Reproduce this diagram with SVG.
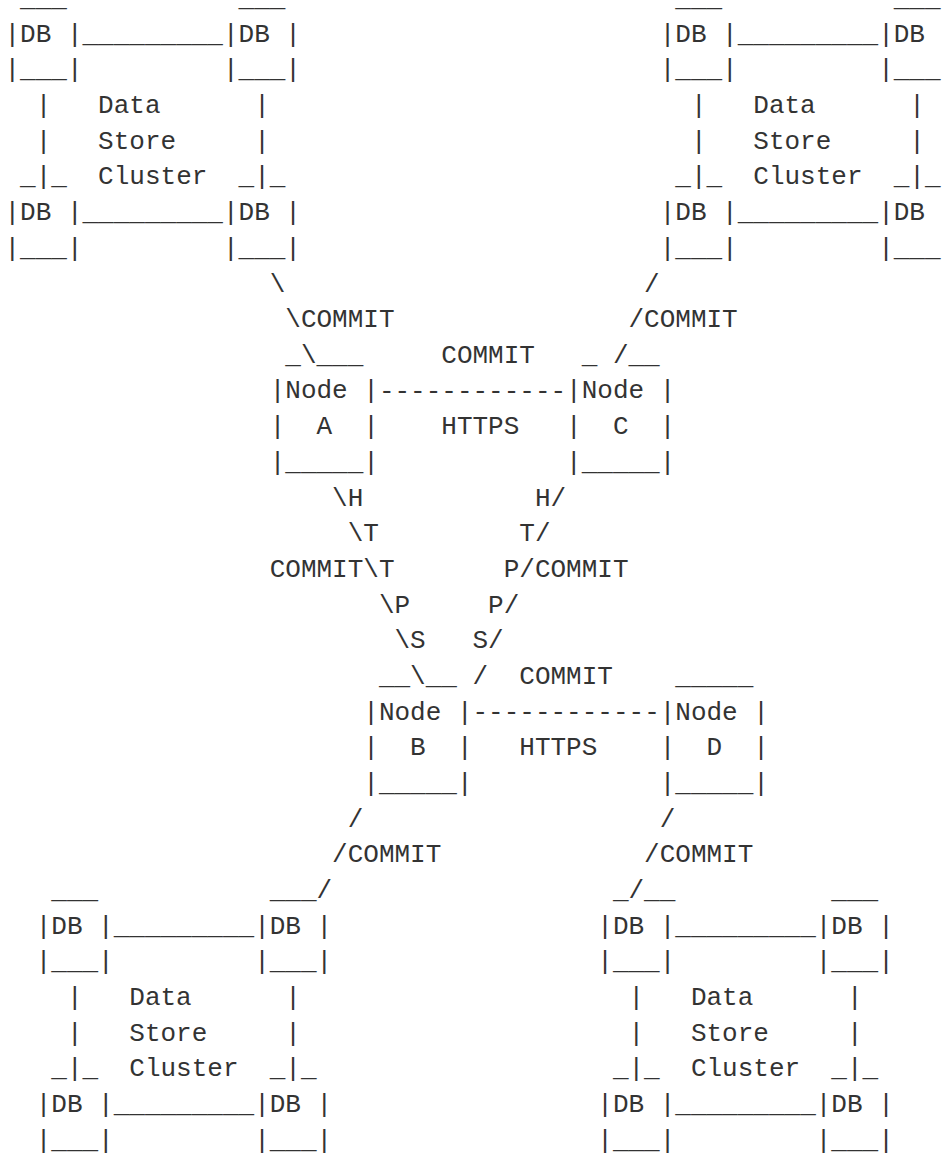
<svg xmlns="http://www.w3.org/2000/svg" width="945" height="1153" viewBox="0 0 945 1153" xml:space="preserve">
  <style>
    text { font-family: "Liberation Mono", "DejaVu Sans Mono", monospace; font-size: 26px; fill: #333; white-space: pre; }
  </style>
  <rect x="0" y="0" width="945" height="1153" fill="#fff"/>

  <!-- Data store clusters: grid of 15.6px columns, 35.68px rows -->
  <g id="cluster-top-left" transform="translate(4.5,6.02)">
    <text x="0" y="0"> ___           ___</text>
    <text x="0" y="35.68">|DB |_________|DB |</text>
    <text x="0" y="71.36">|___|         |___|</text>
    <text x="0" y="107.04">  |   Data      |</text>
    <text x="0" y="142.72">  |   Store     |</text>
    <text x="0" y="178.4"> _|_  Cluster  _|_</text>
    <text x="0" y="214.08">|DB |_________|DB |</text>
    <text x="0" y="249.76">|___|         |___|</text>
  </g>

  <g id="cluster-top-right" transform="translate(659.7,6.02)">
    <text x="0" y="0"> ___           ___</text>
    <text x="0" y="35.68">|DB |_________|DB |</text>
    <text x="0" y="71.36">|___|         |___|</text>
    <text x="0" y="107.04">  |   Data      |</text>
    <text x="0" y="142.72">  |   Store     |</text>
    <text x="0" y="178.4"> _|_  Cluster  _|_</text>
    <text x="0" y="214.08">|DB |_________|DB |</text>
    <text x="0" y="249.76">|___|         |___|</text>
  </g>

  <g id="cluster-bottom-left" transform="translate(35.7,898.0)">
    <text x="0" y="0"> ___           ___</text>
    <text x="0" y="35.68">|DB |_________|DB |</text>
    <text x="0" y="71.36">|___|         |___|</text>
    <text x="0" y="107.04">  |   Data      |</text>
    <text x="0" y="142.72">  |   Store     |</text>
    <text x="0" y="178.4"> _|_  Cluster  _|_</text>
    <text x="0" y="214.08">|DB |_________|DB |</text>
    <text x="0" y="249.76">|___|         |___|</text>
  </g>

  <g id="cluster-bottom-right" transform="translate(597.3,898.0)">
    <text x="0" y="0"> _ __          ___</text>
    <text x="0" y="35.68">|DB |_________|DB |</text>
    <text x="0" y="71.36">|___|         |___|</text>
    <text x="0" y="107.04">  |   Data      |</text>
    <text x="0" y="142.72">  |   Store     |</text>
    <text x="0" y="178.4"> _|_  Cluster  _|_</text>
    <text x="0" y="214.08">|DB |_________|DB |</text>
    <text x="0" y="249.76">|___|         |___|</text>
  </g>

  <!-- Nodes -->
  <g id="node-a" transform="translate(269.7,362.8)">
    <text x="0" y="0"> _ ___</text>
    <text x="0" y="35.68">|Node |</text>
    <text x="0" y="71.36">|  A  |</text>
    <text x="0" y="107.04">|_____|</text>
  </g>

  <g id="node-c" transform="translate(566.1,362.8)">
    <text x="0" y="0"> _  __</text>
    <text x="0" y="35.68">|Node |</text>
    <text x="0" y="71.36">|  C  |</text>
    <text x="0" y="107.04">|_____|</text>
  </g>

  <g id="node-b" transform="translate(363.3,683.9)">
    <text x="0" y="0"> __ __</text>
    <text x="0" y="35.68">|Node |</text>
    <text x="0" y="71.36">|  B  |</text>
    <text x="0" y="107.04">|_____|</text>
  </g>

  <g id="node-d" transform="translate(659.7,683.9)">
    <text x="0" y="0"> _____</text>
    <text x="0" y="35.68">|Node |</text>
    <text x="0" y="71.36">|  D  |</text>
    <text x="0" y="107.04">|_____|</text>
  </g>

  <!-- Connectors: COMMIT links and HTTPS links -->
  <g id="connectors">
    <!-- top-left cluster to A -->
    <text x="269.7" y="291.5">\</text>
    <text x="285.3" y="327.1">\COMMIT</text>
    <text x="300.9" y="362.8">\</text>
    <!-- top-right cluster to C -->
    <text x="644.1" y="291.5">/</text>
    <text x="628.5" y="327.1">/COMMIT</text>
    <text x="612.9" y="362.8">/</text>
    <!-- A to C -->
    <text x="441.3" y="362.8">COMMIT</text>
    <text x="378.9" y="398.5">------------</text>
    <text x="441.3" y="434.2">HTTPS</text>
    <!-- A to B -->
    <text x="332.1" y="505.5">\H</text>
    <text x="347.7" y="541.2">\T</text>
    <text x="269.7" y="576.9">COMMIT\T</text>
    <text x="378.9" y="612.6">\P</text>
    <text x="394.5" y="648.3">\S</text>
    <text x="410.1" y="683.9">\</text>
    <!-- C to B -->
    <text x="534.9" y="505.5">H/</text>
    <text x="519.3" y="541.2">T/</text>
    <text x="503.7" y="576.9">P/COMMIT</text>
    <text x="488.1" y="612.6">P/</text>
    <text x="472.5" y="648.3">S/</text>
    <text x="472.5" y="683.9">/</text>
    <!-- B to D -->
    <text x="519.3" y="683.9">COMMIT</text>
    <text x="472.5" y="719.6">------------</text>
    <text x="519.3" y="755.3">HTTPS</text>
    <!-- B to bottom-left cluster -->
    <text x="347.7" y="826.7">/</text>
    <text x="332.1" y="862.3">/COMMIT</text>
    <text x="316.5" y="898.0">/</text>
    <!-- D to bottom-right cluster -->
    <text x="659.7" y="826.7">/</text>
    <text x="644.1" y="862.3">/COMMIT</text>
    <text x="628.5" y="898.0">/</text>
  </g>
</svg>
